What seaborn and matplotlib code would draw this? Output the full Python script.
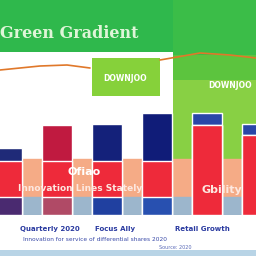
import matplotlib
matplotlib.use("Agg")
import matplotlib.pyplot as plt
import seaborn as sns
import numpy as np
from matplotlib.patches import Rectangle
from matplotlib.lines import Line2D

# ---- data ----
categories = ["A", "B", "C", "D", "E", "F"]
top_values = [42, 56, 57, 64, 64, 57]        # total bar heights
red_values = [34, 34, 34, 34, 56, 50]        # red segment heights
base_values = [11, 11, 11, 11, 56, 50]       # bottom segment heights
title = "Green Gradient"
band_label = "Ofiao"
band_caption = "Innovation Lines Stately"
band_caption_right = "Gbility"
foot_labels = ["Quarterly 2020", "Focus Ally", "Retail Growth"]
foot_note = "Innovation for service of differential shares 2020"
foot_small = "Source: 2020"

top_colors = ["#1f2a78", "#c01a40", "#14217a", "#101c78", "#2a46a8", "#2a46a8"]
red_color = "#ee2a3a"
base_colors = ["#4a2a70", "#b04a66", "#2040a0", "#2850b0", "#ee2a3a", "#ee2a3a"]

sns.set_theme(style="white")
plt.rcParams["font.family"] = ["DejaVu Sans"]

fig = plt.figure(figsize=(2.56, 2.56), dpi=100)
fig.patch.set_facecolor("white")

def frect(x0, y0, x1, y1, color, z=-5):
    fig.add_artist(Rectangle((x0 / 256, 1 - y1 / 256), (x1 - x0) / 256, (y1 - y0) / 256,
                             transform=fig.transFigure, color=color, zorder=z, lw=0))

# header and green panels
frect(0, 0, 256, 52, "#2fb84c")
frect(173, 0, 256, 163, "#88d044")
frect(173, 0, 256, 80, "#5cc43e")
frect(173, 0, 256, 55, "#3bbd48")
frect(92, 58, 160, 96, "#86d13a")
frect(0, 250, 256, 256, "#b8d4e6")

# orange line
xs1 = np.array([0, 40, 67, 90]) / 256
ys1 = 1 - np.array([70, 66, 65, 68]) / 256
xs2 = np.array([160, 200, 230, 256]) / 256
ys2 = 1 - np.array([60, 53, 55, 58]) / 256
fig.add_artist(Line2D(xs1, ys1, color="#e0782a", lw=1.2, transform=fig.transFigure, zorder=-4))
fig.add_artist(Line2D(xs2, ys2, color="#e0782a", lw=1.2, transform=fig.transFigure, zorder=-4))

ax = fig.add_axes([0, 41 / 256, 1, 160 / 256])
ax.set_facecolor("none")
ax.axhspan(11, 35, color="#f5ab86", zorder=0)
ax.axhspan(0, 11, color="#9cb6cc", zorder=0)

sns.barplot(x=categories, y=top_values, hue=categories, palette=top_colors,
            legend=False, width=0.6, ax=ax, order=categories, saturation=1, zorder=2)
sns.barplot(x=categories, y=red_values, hue=categories, palette=[red_color] * 6,
            legend=False, width=0.6, ax=ax, order=categories, saturation=1, zorder=3)
sns.barplot(x=categories, y=base_values, hue=categories, palette=base_colors,
            legend=False, width=0.6, ax=ax, order=categories, saturation=1, zorder=4)
ax.set_xlim(-0.14, 4.98)
ax.set_ylim(0, 100)
ax.axis("off")

# texts
fig.text(0.0, 1 - 38 / 256, title, fontsize=11.5, color="#dff5d8", family="DejaVu Serif",
         fontweight="bold")
fig.text(125 / 256, 1 - 81 / 256, "DOWNJOO", fontsize=5.5, color="white",
         fontweight="bold", ha="center")
fig.text(230 / 256, 1 - 88 / 256, "DOWNJOO", fontsize=5.5, color="white",
         fontweight="bold", ha="center")
fig.text(84 / 256, 1 - 175 / 256, band_label, fontsize=8, color="white",
         fontweight="bold", ha="center", zorder=10)
fig.text(80 / 256, 1 - 191 / 256, band_caption, fontsize=6.5, color="#fde8e0",
         fontweight="bold", ha="center", zorder=10)
fig.text(222 / 256, 1 - 193 / 256, band_caption_right, fontsize=8, color="#fde8e0",
         fontweight="bold", ha="center", zorder=10)
for lbl, x in zip(foot_labels, [50, 115, 202]):
    fig.text(x / 256, 1 - 231 / 256, lbl, fontsize=5, color="#2a3aa0",
             fontweight="bold", ha="center")
fig.text(95 / 256, 1 - 241 / 256, foot_note, fontsize=4.2, color="#3a4aa8", ha="center")
fig.text(175 / 256, 1 - 249 / 256, foot_small, fontsize=3.5, color="#5a6ab8", ha="center")

fig.savefig("out.png", dpi=100)
